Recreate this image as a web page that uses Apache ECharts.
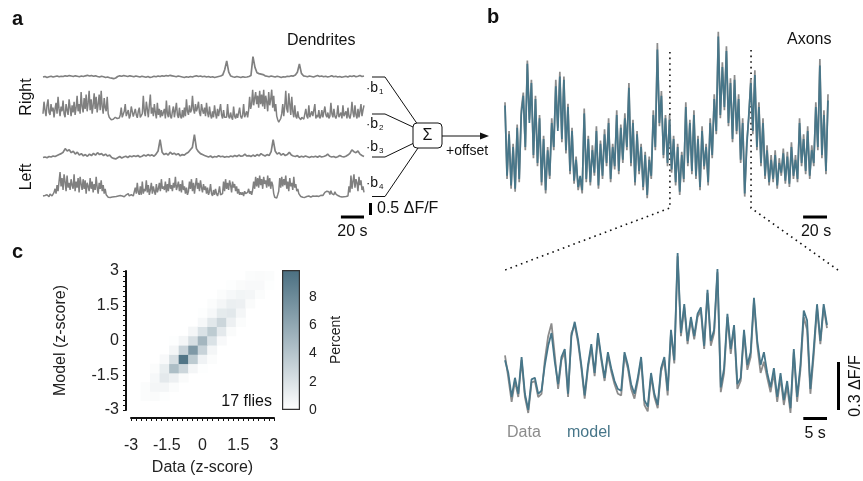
<!DOCTYPE html>
<html>
<head>
<meta charset="utf-8">
<script src="https://cdn.jsdelivr.net/npm/echarts@6/dist/echarts.min.js"></script>
<style>
  html, body { margin: 0; padding: 0; background: #fff; }
  #main { width: 863px; height: 481px; }
</style>
</head>
<body>
<div id="main"></div>
<script>
// ---- panel a: dendrite traces, % dF/F, all spanning dendDur seconds
const dendDur = 278;
const dendR1 = [
  0,2,-2,1,3,0,2,4,1,3, 2,5,3,6,4,2,5,3,1,4, 2,5,7,4,6,3,5,2,0,3, 1,-2,0,-3,-5,-7,-4,2,5,3,
  6,4,2,5,3,1,4,2,0,3, 1,-1,2,-2,0,3,1,4,2,5, 3,6,4,7,5,3,1,4,2,0, -2,1,-1,2,0,3,5,2,4,1,
  3,0,2,-1,1,-2,0,2,4,8, 30,67,20,4,1,-1,2,0,-2,1, -1,0,2,6,85,40,18,14,12,10, 5,3,1,4,2,0,3,1,-2,1,
  0,3,2,5,4,8,20,54,15,5, 3,1,4,2,0,3,6,2,4,1, 3,0,2,5,1,3,0,2,-1,1, 3,0,4,2,5,1,3,6,2,4
];
const dendR2 = [
  20,70,35,10,55,80,25,15,60,30, 45,5,40,65,20,90,40,10,50,30, 75,20,5,60,35,15,80,45,10,55, 25,
  70,15,45,95,30,60,20,110,50,25, 85,40,100,30,65,115,35,80,20,55, 105,
  40,90,25,60,100,35,115,50,20,85, 45,30,90,
  20,5,0,-5,3,-3,0,5,-2,0, 8,2,15,
  45,5,0,30,60,10,2,35,0,12, 50,55,8,0,40,15,3,30,45,5, 0,20,
  95,30,10,70,40,5,55,100,20,45, 10,60,25,0,65,15,40,5,35,10,
  5,40,0,75,20,5,55,10,0,30, 50,5,0,65,15,2,45,10,0,35, 5,
  45,10,80,30,15,55,25,35,95,40, 20,60,30,45,70,25,10,60,35,20, 45,
  10,65,25,5,50,15,0,30,5,55, 20,0,40,10,5,60,15,0,35,5, 0,
  5,60,10,0,25,5,-5,50,10,0, 20,3,0,45,10,0,15,60,5,10, 30,
  5,35,90,40,60,120,55,85,110,60, 95,45,115,60,100,50,120,
  40,95,70,30,110,55,80,120,45,95, 30,60,10,-5,-15,-10,0,20,60,
  10,50,115,40,25,105,60,15,90,30, 5,55,10,0,30,5,0,-5,
  5,0,-3,5,40,10,0,55,5,0, 30,10,5,60,0,15,5,35,0,10,
  35,5,0,50,15,5,25,0,10,65, 20,5,40,10,0,15,55,5,0,25, 0,
  55,10,5,30,0,45,10,0,20,70, 25,5,55,15,0,40,5,30,60,10, 35,55
];
const dendL1 = [
  -2,0,-3,2,0,4,2,6,10,14, 20,35,25,30,18,24,12,20,8,14, 5,10,3,12,6,15,8,18,10,14, 6,12,4,8,-2,-6,-8,-3,2,-4,
  0,3,-2,4,1,5,2,6,0,3, 8,4,10,5,9,3,12,25,72,20, 10,15,8,20,12,16,9,14,5,10, 8,15,20,30,40,93,35,22,14,10,
  6,3,0,4,-2,2,0,5,1,3, -1,2,0,4,1,6,2,8,3,5, 12,4,6,2,8,3,10,5,14,8, 4,10,6,22,72,25,12,18,8,14,
  6,10,20,8,4,2,6,-1,3,0, 4,1,-2,2,0,3,-1,4,0,2, 5,12,3,0,2,-2,1,6,2,0, 3,8,15,30,22,18,25,12,6,2
];
const dendL2 = [
  0,-3,2,-2,5,0,-3,8,2,0, 5,15,
  30,10,45,20,60,100,40,75,25,90, 60,20,85,35,55,25,70,45,30,
  90,20,60,35,75,15,80,50,25,70, 30,65,10,55,40,20,75,30,60,15, 50,25,80,35,10,55,30,65,20,45, 10,30,
  5,0,-5,-2,-6,0,-4,2,-3,0, -2,5,0,-4,2,-2,0,3,-3,0, 5,2,10,0,-2,6,3,0,5,
  35,10,55,15,5,40,5,60,10,30, 20,65,15,45,5,25,55,10,40,20, 5,50,15,30,
  55,20,70,30,40,25,60,15,50,20, 75,30,45,20,55,35,80,25,40,60, 20,50,15,65,25,40,10,35,5,20,
  60,30,70,20,55,10,45,75,30,55, 20,65,35,15,50,25,40,
  10,35,5,20,50,10,0,25,5,30, 10,0,15,40,5,0,10,
  60,20,70,30,55,25,65,45,15,60, 35,50,20,40,10,30,5,15,
  5,15,0,20,10,5,15,30,10,20, 5,25,
  60,30,80,40,75,35,85,45,70,30, 80,50,65,35,85,40,75,30,60,45,
  10,-5,0,-8,5,20,
  75,35,80,40,70,45,85,30,60,20, 75,40,55,25,80,35,50,20,30,10,
  5,-2,0,-5,-3,-6,-4,-2,-5,0, -3,-5,-2,0,-4,-1,-3,0,2,-2, 0,3,5,2,
  10,15,8,20,12,18,6,22,10,15, 5,18,8,12,2,6,-2,0,-4,
  0,-3,2,-2,5,0,
  40,15,85,30,60,90,35,70,55,20, 80,45,65,25,40,15
];

// ---- panel b: axon trace, % dF/F (data and model)
const axonDt = 1.7;
const axonModel = [
  56,12,38,6,30,4,42,10, 50,62,30,82,45,70,25,60, 20,48,8,35,3,28,12,45, 30,68,40,74,35,72,28,55,
  15,40,9,22,5,12,3,51, 10,35,8,28,14,40,6,32, 12,38,20,45,10,30,18,50, 15,42,22,48,30,67,20,45,
  8,38,15,30,5,25,0,22, 12,50,30,91,45,62,25,48, 20,47,16,35,8,30,2,25, 10,55,20,45,15,50,12,35,
  5,40,18,30,8,45,25,60, 40,99,50,80,55,90,45,70, 35,72,40,60,22,45,1,30, 50,70,40,75,30,55,20,45,
  12,28,8,22,10,25,6,20, 14,26,9,24,7,30,12,22, 10,45,20,35,15,40,12,28, 20,55,30,81,25,50,15,59
];
const axonData = [
  58,10,40,4,32,2,44,8, 53,64,28,84,47,72,23,62, 18,50,6,37,1,30,10,48, 28,72,42,77,33,74,26,57,
  13,42,7,24,3,10,1,54, 8,37,6,31,12,43,4,34, 10,41,18,48,8,32,16,53, 13,44,20,51,28,70,18,47,
  6,40,13,32,3,27,-2,24, 10,53,28,95,43,65,23,50, 18,50,14,37,6,32,0,27, 8,58,18,47,13,53,10,37,
  3,43,16,32,6,48,23,63, 38,102,48,83,53,93,43,73, 33,75,38,63,20,48,-1,33, 48,73,38,78,28,58,18,48,
  10,31,6,25,8,28,4,23, 12,29,7,27,5,33,10,25, 8,48,18,38,13,43,10,31, 18,58,28,85,23,53,13,63
];

// ---- panel b bottom: zoomed window of the axon trace
const zoomStart = 138;   // s
const zoomDt = 0.7;
const zoomModel = [
  33,25,10,22,12,35,12,2,21,22, 12,14,30,42,50,32,18,35,40,12, 48,57,46,30,11,30,43,25,50,35,
  22,38,28,20,15,14,38,30,18,12, 22,35,8,4,25,12,5,28,35,14, 52,33,100,50,68,45,60,48,62,66,
  42,77,45,52,90,16,28,62,40,55, 18,22,52,30,38,72,45,30,38,25, 16,28,10,25,8,20,3,40,10,30,
  64,58,15,40,68,45,68,55
];
const zoomData = [
  36,22,7,20,10,33,10,0,19,20, 10,12,33,48,56,36,15,33,38,10, 50,55,44,28,9,28,41,23,48,33,
  20,36,26,18,12,11,36,28,15,9, 20,33,5,1,23,10,3,26,33,11, 50,31,98,48,66,43,58,46,60,64,
  40,75,42,50,88,13,25,60,37,53, 15,20,50,27,35,70,42,25,32,22, 13,25,7,22,5,17,0,38,7,27,
  60,52,12,36,66,43,66,53
];

// ---- panel c: joint histogram, [data bin, model bin, percent], bins of 0.4 from -3
const zMin = -3, zBin = 0.4;
const heatCells = [
  [1,1,0.2],[2,1,0.3],[3,1,0.1],
  [1,2,0.2],[2,2,0.6],[3,2,0.6],[4,2,0.2],
  [2,3,0.5],[3,3,1.5],[4,3,1.0],[5,3,0.3],
  [2,4,0.2],[3,4,1.2],[4,4,4.5],[5,4,2.8],[6,4,0.6],[7,4,0.1],
  [3,5,0.4],[4,5,2.2],[5,5,9.5],[6,5,3.6],[7,5,0.8],[8,5,0.2],
  [4,6,0.6],[5,6,3.0],[6,6,7.0],[7,6,3.0],[8,6,0.6],
  [4,7,0.1],[5,7,0.6],[6,7,2.2],[7,7,5.0],[8,7,2.0],[9,7,0.4],
  [6,8,0.6],[7,8,2.0],[8,8,3.6],[9,8,1.5],[10,8,0.3],
  [7,9,0.5],[8,9,1.6],[9,9,2.8],[10,9,1.0],[11,9,0.2],
  [7,10,0.1],[8,10,0.5],[9,10,1.4],[10,10,1.6],[11,10,0.6],
  [8,11,0.2],[9,11,0.6],[10,11,1.1],[11,11,1.0],[12,11,0.3],
  [9,12,0.2],[10,12,0.5],[11,12,0.7],[12,12,0.6],[13,12,0.2],
  [10,13,0.1],[11,13,0.3],[12,13,0.4],[13,13,0.4],[14,13,0.1],
  [12,14,0.2],[13,14,0.3],[14,14,0.2]
];
const zTicks = [-3, 3, 1.5];        // min, max, interval
const pctMax = 9.9;
const pctInterval = 2;

const FONT = 'Liberation Sans, Arial, Helvetica, sans-serif';
const GRAY = '#808080';
const DATA_GRAY = '#8c8c8c';
const TEAL = '#477689';
const DARK = '#4a6f81';

const chart = echarts.init(document.getElementById('main'));

const toXY = (arr, dt, t0) => arr.map((v, i) => [t0 + i * dt, v]);

// dendrite grids: 0.24 px per % dF/F (0.5 dF/F = 12 px)
const dendBase = [77, 118.5, 157, 196];
const dendTraces = [dendR1, dendR2, dendL1, dendL2];
const grids = [], xAxes = [], yAxes = [], series = [];
dendTraces.forEach((tr, k) => {
  grids.push({ left: 43, width: 321, top: dendBase[k] - 120 * 0.24, height: 160 * 0.24 });
  xAxes.push({ gridIndex: k, type: 'value', min: 0, max: dendDur, show: false });
  yAxes.push({ gridIndex: k, type: 'value', min: -40, max: 120, show: false });
  series.push({
    type: 'line', xAxisIndex: k, yAxisIndex: k, data: toXY(tr, dendDur / (tr.length - 1), 0),
    symbol: 'none', clip: false,
    lineStyle: { color: GRAY, width: tr.length > 200 ? 1.5 : 1.7 }
  });
});

// axon top (grid 4) and zoom (grid 5): 1.6 px per % dF/F
grids.push({ left: 505, width: 323, top: 35, height: 160 });
xAxes.push({ gridIndex: 4, type: 'value', min: 0, max: (axonModel.length - 1) * axonDt, show: false });
yAxes.push({ gridIndex: 4, type: 'value', min: 0, max: 100, show: false });
grids.push({ left: 505, width: 322, top: 253, height: 160 });
xAxes.push({ gridIndex: 5, type: 'value', min: zoomStart, max: zoomStart + (zoomModel.length - 1) * zoomDt, show: false });
yAxes.push({ gridIndex: 5, type: 'value', min: 0, max: 100, show: false });

series.push({ type: 'line', xAxisIndex: 4, yAxisIndex: 4, data: toXY(axonData, axonDt, 0),
  symbol: 'none', clip: false, lineStyle: { color: DATA_GRAY, width: 1.7 } });
series.push({ type: 'line', xAxisIndex: 4, yAxisIndex: 4, data: toXY(axonModel, axonDt, 0),
  symbol: 'none', clip: false, lineStyle: { color: TEAL, width: 1.7 } });
series.push({ type: 'line', xAxisIndex: 5, yAxisIndex: 5, data: toXY(zoomData, zoomDt, zoomStart),
  symbol: 'none', clip: false, lineStyle: { color: DATA_GRAY, width: 1.8 } });
series.push({ type: 'line', xAxisIndex: 5, yAxisIndex: 5, data: toXY(zoomModel, zoomDt, zoomStart),
  symbol: 'none', clip: false, lineStyle: { color: TEAL, width: 1.8 } });

// heatmap (grid 6)
const axisBlack = { color: '#111', width: 2 };
grids.push({ left: 131, width: 143, top: 271, height: 139 });
const zAxisBase = {
  gridIndex: 6, type: 'value', min: zTicks[0], max: zTicks[1], interval: zTicks[2],
  axisLine: { show: true, onZero: false, lineStyle: axisBlack },
  axisTick: { show: true, length: 3, lineStyle: { color: '#111', width: 1 } },
  minorTick: { show: true, splitNumber: 7, length: 3, lineStyle: { color: '#111', width: 1 } },
  splitLine: { show: false },
  nameLocation: 'middle',
  nameTextStyle: { fontSize: 16, color: '#222', fontFamily: FONT }
};
xAxes.push(Object.assign({}, zAxisBase, {
  position: 'bottom', offset: 8, name: 'Data (z-score)', nameGap: 42,
  axisLabel: { fontSize: 16, color: '#222', margin: 20, fontFamily: FONT }
}));
yAxes.push(Object.assign({}, zAxisBase, {
  position: 'left', offset: 5, name: 'Model (z-score)', nameGap: 57,
  axisLabel: { fontSize: 16, color: '#222', margin: 7, fontFamily: FONT }
}));
series.push({
  type: 'custom', xAxisIndex: 6, yAxisIndex: 6,
  data: heatCells.map(c => [zMin + (c[0] + 0.5) * zBin, zMin + (c[1] + 0.5) * zBin, c[2]]),
  encode: { x: 0, y: 1 },
  renderItem: (params, api) => {
    const x = api.value(0), y = api.value(1);
    const p0 = api.coord([x - zBin / 2, y + zBin / 2]);
    const p1 = api.coord([x + zBin / 2, y - zBin / 2]);
    return { type: 'rect',
      shape: { x: p0[0], y: p0[1], width: p1[0] - p0[0] + 0.4, height: p1[1] - p0[1] + 0.4 },
      style: { fill: api.visual('color') } };
  }
});

// colorbar (grid 7)
grids.push({ left: 282, width: 18, top: 270, height: 140 });
xAxes.push({ gridIndex: 7, type: 'category', data: [''], show: false });
yAxes.push({
  gridIndex: 7, type: 'value', position: 'right', min: 0, max: pctMax, interval: pctInterval,
  axisLine: { show: false }, axisTick: { show: false }, splitLine: { show: false },
  axisLabel: { fontSize: 14, color: '#222', margin: 9, showMaxLabel: false, fontFamily: FONT },
  name: 'Percent', nameLocation: 'middle', nameGap: 29, nameRotate: 90,
  nameTextStyle: { fontSize: 14, color: '#222', fontFamily: FONT }
});
series.push({
  type: 'bar', xAxisIndex: 7, yAxisIndex: 7, data: [pctMax], barWidth: '100%', silent: true,
  itemStyle: {
    color: new echarts.graphic.LinearGradient(0, 1, 0, 0, [
      { offset: 0, color: '#ffffff' }, { offset: 1, color: DARK }
    ]),
    borderColor: '#333', borderWidth: 1.2
  }
});

chart.setOption({
  animation: false,
  backgroundColor: '#fff',
  textStyle: { fontFamily: FONT },
  grid: grids, xAxis: xAxes, yAxis: yAxes, series: series,
  visualMap: {
    type: 'continuous', show: false, min: 0, max: pctMax, dimension: 2, seriesIndex: 8,
    inRange: { color: ['#ffffff', DARK] }
  }
});

// ---- annotations
const P = (g, pt) => chart.convertToPixel({ gridIndex: g }, pt);
const txt = (text, x, y, o) => Object.assign({
  type: 'text', x: x, y: y,
  style: Object.assign({ text: text, fill: '#111', fontSize: 16, fontFamily: FONT,
    align: 'left', verticalAlign: 'middle' }, (o && o.style) || {})
}, o && o.rotation ? { rotation: o.rotation } : {});
const bar = (x0, y0, x1, y1) => ({ type: 'rect',
  shape: { x: Math.min(x0, x1), y: Math.min(y0, y1), width: Math.abs(x1 - x0), height: Math.abs(y1 - y0) },
  style: { fill: '#000' } });
const pline = (pts, extra) => ({ type: 'polyline', shape: { points: pts },
  style: Object.assign({ stroke: '#111', lineWidth: 1, fill: null }, extra || {}) });

const g = [];
// panel letters and titles
g.push(txt('a', 12, 19, { style: { fontSize: 20, fontWeight: 'bold' } }));
g.push(txt('b', 487, 17, { style: { fontSize: 20, fontWeight: 'bold' } }));
g.push(txt('c', 12, 252, { style: { fontSize: 20, fontWeight: 'bold' } }));
g.push(txt('Dendrites', 287, 41));
g.push(txt('Axons', 787, 40));
g.push(txt('Right', 27, 97, { rotation: Math.PI / 2, style: { align: 'center' } }));
g.push(txt('Left', 27, 177, { rotation: Math.PI / 2, style: { align: 'center' } }));

// weights and summation
const bY = [88, 124, 147, 183];
bY.forEach((y, k) => {
  g.push({ type: 'text', x: 366, y: y,
    style: { text: '{d|·}{b|b}{s|' + (k + 1) + '}', verticalAlign: 'middle', fontFamily: FONT,
      rich: { d: { fontSize: 13, fill: '#111', fontFamily: FONT },
              b: { fontSize: 14, fill: '#111', fontFamily: FONT },
              s: { fontSize: 8, fill: '#111', fontFamily: FONT, padding: [8, 0, 0, 1] } } } });
});
g.push(pline([[372, 77], [385, 77], [417, 123.5]]));
g.push(pline([[372, 114], [385, 114], [413, 127]]));
g.push(pline([[372, 157], [385, 157], [413, 143.5]]));
g.push(pline([[372, 196.5], [385, 196.5], [418, 148]]));
g.push({ type: 'rect', shape: { x: 413, y: 123, width: 29, height: 25, r: 4 },
  style: { fill: '#fff', stroke: '#111', lineWidth: 1 } });
g.push(txt('Σ', 427.5, 135.5, { style: { align: 'center', fontSize: 16 } }));
g.push(pline([[442, 136], [483, 136]]));
g.push({ type: 'polygon', shape: { points: [[489, 136], [480, 132.5], [480, 139.5]] }, style: { fill: '#111' } });
g.push(txt('+offset', 446, 151, { style: { fontSize: 14 } }));

// panel a scale bars
const a20 = [P(3, [dendDur - 20, 0])[0], P(3, [dendDur, 0])[0]];
g.push(bar(a20[0], 215.5, a20[1], 218.5));
g.push(txt('20 s', (a20[0] + a20[1]) / 2, 232, { style: { align: 'center' } }));
const a05 = P(3, [0, 0])[1] - P(3, [0, 50])[1];
g.push(bar(369, 215 - a05, 372, 215));
g.push(txt('0.5 ΔF/F', 377, 209));

// panel b scale bars
const bEnd = (axonModel.length - 1) * axonDt;
const b20 = [P(4, [bEnd - 20, 0])[0], P(4, [bEnd, 0])[0]];
g.push(bar(b20[0] - 1, 215.5, b20[1] - 1, 218.5));
g.push(txt('20 s', (b20[0] + b20[1]) / 2, 232, { style: { align: 'center' } }));
const zEnd = zoomStart + (zoomModel.length - 1) * zoomDt;
const b5 = [P(5, [zEnd - 5, 0])[0], P(5, [zEnd, 0])[0]];
g.push(bar(b5[0], 417, b5[1], 420));
g.push(txt('5 s', (b5[0] + b5[1]) / 2, 434, { style: { align: 'center' } }));
const b03 = P(5, [zoomStart, 0])[1] - P(5, [zoomStart, 30])[1];
g.push(bar(837, 410 - b03, 840, 410));
g.push(txt('0.3 ΔF/F', 856, 386, { rotation: Math.PI / 2, style: { align: 'center' } }));
g.push(txt('Data', 507, 433, { style: { fill: DATA_GRAY } }));
g.push(txt('model', 567, 433, { style: { fill: TEAL } }));

// zoom window markers
const dot = { lineDash: [1.6, 4], lineWidth: 1.6, stroke: '#111' };
const zx0 = P(4, [zoomStart, 0])[0];
const zx1 = P(4, [zEnd, 0])[0];
g.push(pline([[zx0, 52], [zx0, 208], [505, 270]], dot));
g.push(pline([[zx1, 50], [zx1, 208], [838, 270]], dot));

// panel c label
g.push(txt('17 flies', 272, 402, { style: { align: 'right' } }));

chart.setOption({ graphic: { elements: g } });
</script>
</body>
</html>
